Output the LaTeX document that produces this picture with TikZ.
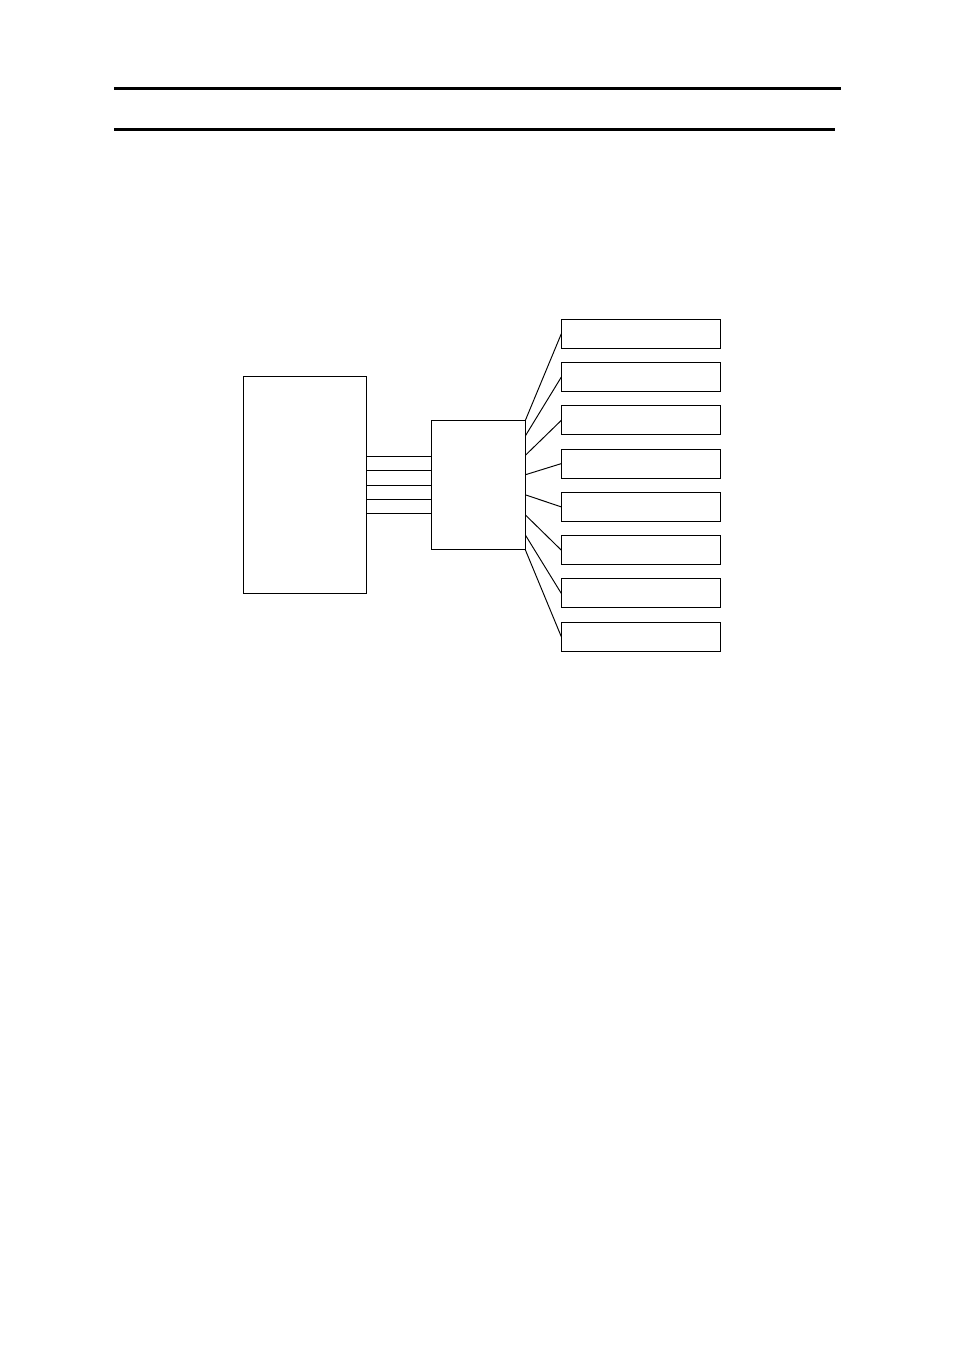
\documentclass[tikz,border=0pt]{standalone}
\usetikzlibrary{positioning,calc}

\begin{document}
\begin{tikzpicture}[x=0.624pt,y=-0.624pt,
	every node/.style={draw,line width=0.6pt,inner sep=0pt,outer sep=0pt},
	outbox/.style={minimum width=99.2pt,minimum height=18.1pt},
	wire/.style={line width=0.6pt},
	rule/.style={line width=1.9pt}]

	\useasboundingbox (0,0) rectangle (954,1351);

	\draw[rule] (114,88.5) -- (841,88.5);
	\draw[rule] (114,129.7) -- (835,129.7);

	\node[anchor=north west,minimum width=77pt,minimum height=135.2pt] (host) at (243.3,376.7) {};
	\node[anchor=north west,minimum width=58.7pt,minimum height=80.9pt] (hub) at (431.3,420.3) {};

	\node[outbox,anchor=north west] (out1) at (561.3,319.3) {};
	\foreach \i [count=\p] in {2,...,8}
		\node[outbox,below=8.9pt of out\p] (out\i) {};

	\foreach \d in {36,50,65,79,93}
		\draw[wire] ($(hub.north west)+(0,\d)$) coordinate (a) -- (a -| host.east);

	\foreach \f [count=\i] in {0,0.12,0.27,0.42,0.575,0.73,0.885,1}
		\draw[wire] ($(hub.north east)!\f!(hub.south east)$) -- (out\i.west);
\end{tikzpicture}
\end{document}
